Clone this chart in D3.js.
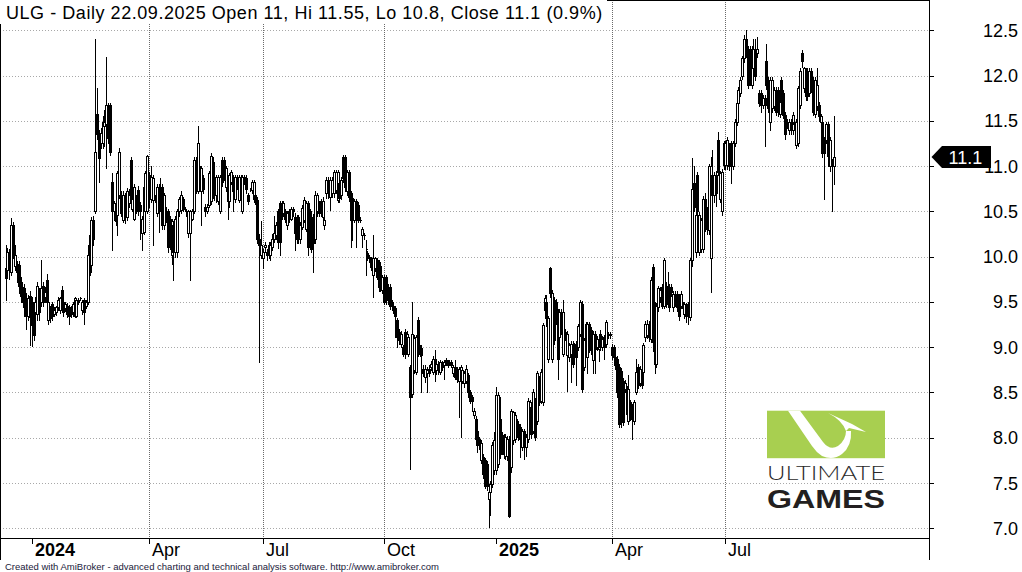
<!DOCTYPE html>
<html><head><meta charset="utf-8">
<script src="https://cdn.jsdelivr.net/npm/d3@7"></script>
<style>html,body{margin:0;padding:0;background:#fff;overflow:hidden}</style>
</head><body>
<svg id="c" width="1022" height="572" xmlns="http://www.w3.org/2000/svg"></svg>
<script>
// ---------------- data ----------------
const title = "ULG - Daily 22.09.2025 Open 11, Hi 11.55, Lo 10.8, Close 11.1 (0.9%)";
const footer = "Created with AmiBroker - advanced charting and technical analysis software. http://www.amibroker.com";
const lastLabel = "11.1";
const lastClose = 11.1;
const startDate = "2023-12-08";
const endDate = "2025-09-22";
const holidays = ["2023-12-25","2023-12-26","2024-01-01","2024-03-29","2024-04-01","2024-05-01","2024-05-03","2024-05-30","2024-08-15","2024-11-01","2024-11-11","2024-12-24","2024-12-25","2024-12-26","2024-12-31","2025-01-01","2025-01-06","2025-04-18","2025-04-21","2025-05-01","2025-06-19","2025-08-15"];
const yTicks = [7.0,7.5,8.0,8.5,9.0,9.5,10.0,10.5,11.0,11.5,12.0,12.5];
const monthTicks = ["2024-01","2024-04","2024-07","2024-10","2025-01","2025-04","2025-07"];
const monthLabels = ["2024","Apr","Jul","Oct","2025","Apr","Jul"];
const monthIsYear = [true,false,false,false,true,false,false];

const open = [9.87,9.85,10.05,9.83,10.35,9.90,9.92,9.91,9.72,9.67,9.65,9.54,9.35,9.57,9.50,9.43,9.39,9.37,9.61,9.50,9.68,9.56,9.74,9.30,9.43,9.48,9.37,9.39,9.44,9.41,9.63,9.50,9.43,9.46,9.44,9.44,9.39,9.35,9.35,9.52,9.54,9.41,9.52,9.46,9.50,10.24,9.91,10.40,10.50,11.58,11.35,11.25,11.25,11.44,11.46,11.68,11.68,10.83,10.50,10.50,10.46,10.68,10.68,10.40,10.66,10.44,10.59,11.07,10.53,10.42,10.64,10.74,10.57,10.26,10.27,10.50,10.50,10.90,10.64,10.63,10.64,10.48,10.77,10.77,10.77,10.35,10.50,10.50,10.42,10.02,10.35,10.05,10.05,10.50,10.51,10.64,10.53,10.50,10.26,10.26,10.42,10.50,11.07,10.72,10.96,10.72,10.87,10.55,10.50,10.57,10.61,11.05,10.88,10.68,10.61,10.50,11.07,11.07,10.77,10.88,10.61,10.83,10.88,10.64,10.87,10.63,10.75,10.50,10.88,10.87,10.68,10.74,10.74,10.64,10.68,10.63,10.20,10.02,9.98,10.11,10.05,10.13,10.02,10.11,10.20,10.24,10.50,10.59,10.59,10.48,10.50,10.35,10.50,10.42,10.53,10.44,10.20,10.44,10.20,10.33,10.41,10.31,10.59,10.50,10.44,10.44,10.20,10.50,10.59,10.61,10.44,10.35,10.70,10.85,10.66,10.70,10.70,10.74,10.63,10.81,10.68,11.10,11.10,10.72,10.94,10.70,10.65,10.41,10.61,10.57,10.41,10.24,10.24,10.09,10.04,9.98,9.98,9.80,9.87,9.96,9.94,9.90,9.63,9.78,9.78,9.67,9.67,9.50,9.45,9.43,9.30,9.17,9.04,9.00,9.17,9.00,8.93,8.78,8.48,8.75,8.73,9.30,8.93,8.99,8.76,8.67,8.71,8.76,8.78,8.73,8.87,8.75,8.82,8.73,8.82,8.80,8.86,8.80,8.84,8.84,8.71,8.78,8.76,8.63,8.65,8.63,8.60,8.63,8.69,8.51,8.45,8.25,8.21,8.08,7.99,7.75,7.79,7.75,7.71,7.32,7.40,7.49,7.64,7.64,7.71,8.21,8.03,7.82,7.80,7.80,7.99,7.68,7.97,7.99,8.19,8.15,8.12,7.90,8.08,7.90,7.99,8.30,8.34,8.08,8.41,8.19,8.65,8.41,8.39,9.41,9.50,8.87,9.87,8.87,9.52,9.50,9.39,9.11,9.39,8.93,9.17,8.91,8.89,8.93,9.04,9.02,9.04,9.00,9.15,9.48,8.78,9.08,8.89,9.26,9.19,8.86,9.15,9.00,8.98,9.15,9.00,9.11,9.04,9.15,9.13,9.00,9.00,8.89,8.87,8.78,8.74,8.63,8.54,8.54,8.19,8.39,8.34,8.19,8.51,8.78,8.60,8.73,8.73,9.11,9.13,9.26,9.09,9.89,9.46,8.82,9.44,9.56,9.67,9.46,9.68,9.61,9.67,9.67,9.44,9.59,9.59,9.56,9.46,9.48,9.37,9.46,9.48,9.33,9.96,10.81,10.05,10.90,10.05,10.09,10.09,10.64,10.51,10.29,9.98,10.90,10.68,10.90,11.29,10.64,10.50,11.25,11.01,11.01,11.23,11.25,11.00,11.25,11.49,11.70,11.81,12.00,12.19,12.40,12.29,12.29,11.90,12.08,12.29,12.25,11.81,11.81,11.68,11.75,12.16,11.95,11.49,11.64,11.66,11.84,11.84,11.58,11.95,11.81,11.57,11.49,11.40,11.49,11.40,11.49,11.23,11.25,11.68,12.25,11.86,12.05,12.05,11.81,12.05,11.95,11.58,11.66,11.68,11.49,11.49,11.29,11.29,11.46,11.00,11.05,11.00];
const high = [10.13,10.10,10.08,10.43,10.38,10.13,9.95,9.95,9.78,9.72,9.70,9.60,9.58,9.62,9.55,9.48,9.56,9.72,9.65,9.96,9.72,9.66,9.81,9.52,9.46,9.50,9.44,9.46,9.55,9.56,9.68,9.52,9.50,9.49,9.47,9.46,9.50,9.55,9.54,9.54,9.55,9.52,9.54,9.52,10.13,10.28,10.44,10.45,12.40,11.86,11.40,11.42,11.55,11.62,12.21,11.70,11.70,10.92,10.62,10.53,10.95,11.20,10.72,10.72,10.70,10.76,10.75,11.10,10.68,10.80,10.68,10.78,10.60,10.45,10.80,10.95,11.12,10.93,11.00,10.90,10.68,10.80,10.80,10.87,10.80,10.70,10.55,10.53,10.45,10.42,10.38,10.45,10.53,10.66,10.72,10.66,10.55,10.53,10.52,10.52,10.53,11.10,11.10,11.44,11.00,11.00,10.90,10.58,10.58,10.95,11.14,11.10,10.90,10.90,10.90,10.90,11.10,11.10,11.00,10.90,10.92,10.96,10.90,10.90,10.90,10.90,10.90,10.90,10.90,10.90,10.70,10.76,10.85,10.85,10.70,10.66,10.25,10.39,10.08,10.16,10.08,10.16,10.16,10.25,10.45,10.38,10.53,10.62,10.62,10.62,10.53,10.50,10.53,10.55,10.55,10.48,10.46,10.46,10.38,10.57,10.66,10.62,10.62,10.53,10.47,10.47,10.72,10.70,10.62,10.64,10.66,10.44,10.88,10.88,10.88,10.88,10.96,10.96,10.96,10.84,10.88,11.12,11.12,10.96,10.96,10.72,10.68,10.64,10.64,10.60,10.44,10.33,10.26,10.18,10.06,10.02,10.00,10.24,10.00,9.98,9.96,9.94,9.80,9.80,9.80,9.70,9.70,9.52,9.47,9.46,9.32,9.20,9.18,9.02,9.20,9.18,9.14,8.80,9.50,9.13,9.14,9.33,9.02,9.02,8.80,8.80,8.78,8.80,8.85,8.90,8.97,8.85,8.85,8.86,8.85,8.86,8.88,8.86,8.86,8.86,8.80,8.86,8.78,8.78,8.80,8.78,8.74,8.80,8.72,8.53,8.47,8.33,8.24,8.10,8.01,7.97,7.82,7.78,7.74,7.45,7.52,7.95,8.06,8.56,8.50,8.45,8.06,8.04,8.04,8.02,8.02,8.32,8.30,8.28,8.21,8.18,8.15,8.10,8.10,8.04,8.44,8.42,8.37,8.54,8.44,8.74,8.68,8.76,9.27,9.58,9.58,9.35,9.89,9.63,9.55,9.53,9.42,9.42,9.42,9.52,9.20,9.18,9.05,9.07,9.07,9.05,9.07,9.26,9.52,9.51,9.10,9.28,9.28,9.28,9.22,9.18,9.18,9.12,9.09,9.19,9.12,9.14,9.30,9.17,9.17,9.03,9.02,8.92,8.90,8.81,8.77,8.66,8.64,8.57,8.69,8.42,8.37,8.42,8.87,8.81,8.79,8.76,9.05,9.29,9.30,9.29,9.77,9.92,9.50,9.49,9.68,9.66,9.70,9.98,9.72,9.83,9.70,9.70,9.62,9.62,9.62,9.59,9.62,9.50,9.50,9.49,9.50,9.99,11.09,11.00,10.50,10.93,10.49,10.43,10.67,10.70,10.55,11.02,11.10,11.18,10.93,10.95,11.38,10.95,10.97,11.28,11.28,11.32,11.26,11.28,11.28,11.52,11.73,11.87,11.98,12.22,12.45,12.50,12.33,12.33,12.33,12.40,12.40,12.43,11.84,11.84,11.78,11.78,12.35,11.98,11.98,11.98,11.87,11.87,11.87,11.82,11.98,11.84,11.60,11.52,11.52,11.52,11.60,11.52,11.52,11.89,12.08,12.28,12.10,12.08,12.08,12.08,12.08,11.98,11.98,12.08,11.71,11.58,11.52,11.32,11.49,11.49,11.32,11.08,11.55];
const low = [9.52,9.80,9.75,9.80,9.98,9.85,9.72,9.60,9.50,9.50,9.35,9.20,9.30,9.02,9.01,9.08,9.30,9.30,9.30,9.45,9.45,9.50,9.46,9.26,9.28,9.30,9.35,9.36,9.41,9.38,9.43,9.35,9.40,9.33,9.26,9.33,9.35,9.33,9.33,9.48,9.52,9.37,9.26,9.43,9.48,9.80,9.88,10.13,10.48,11.30,10.83,11.20,11.20,11.22,10.98,11.25,11.12,10.07,10.40,10.35,10.24,10.65,10.45,10.38,10.37,10.40,10.55,10.60,10.50,10.40,10.48,10.46,10.20,10.07,10.25,10.45,10.48,10.55,10.60,10.13,10.60,10.45,10.27,10.57,10.30,10.30,10.38,10.05,10.08,9.92,9.74,10.00,10.00,10.45,10.48,10.50,10.50,10.45,10.22,9.74,10.40,10.48,10.70,10.70,10.75,10.35,10.70,10.45,10.48,10.55,10.58,10.65,10.63,10.60,10.58,10.48,10.78,10.85,10.72,10.42,10.55,10.80,10.50,10.60,10.75,10.60,10.70,10.48,10.80,10.70,10.58,10.72,10.70,10.60,10.58,10.15,8.84,9.98,9.87,10.05,9.96,9.98,9.96,10.07,10.16,10.20,10.10,10.02,10.42,10.45,10.38,10.30,10.38,10.40,10.45,10.07,10.15,10.15,10.15,10.30,10.38,10.28,10.02,10.08,10.05,9.83,10.15,10.45,10.45,10.45,10.40,10.30,10.65,10.65,10.52,10.66,10.66,10.70,10.60,10.60,10.64,10.82,10.72,10.68,10.61,10.11,10.18,10.38,10.11,10.38,10.38,10.11,10.20,9.80,9.96,9.94,9.85,9.56,9.84,9.75,9.62,9.62,9.60,9.48,9.48,9.48,9.42,9.43,9.38,9.11,9.00,9.04,9.00,8.90,8.88,8.96,8.90,7.66,8.45,8.72,8.70,8.90,8.90,8.51,8.68,8.62,8.51,8.68,8.75,8.70,8.63,8.70,8.70,8.70,8.75,8.65,8.80,8.78,8.80,8.78,8.68,8.65,8.62,8.23,8.01,8.60,8.56,8.60,8.45,8.38,8.30,8.22,7.95,7.84,7.88,7.72,7.56,7.44,7.42,7.01,7.15,7.46,7.60,7.60,7.68,7.78,7.82,7.78,7.76,7.75,7.12,7.62,7.93,7.95,8.04,7.97,7.79,7.86,7.77,7.80,7.95,8.27,8.00,8.05,7.98,8.15,8.36,8.38,8.36,9.34,9.23,8.84,9.56,8.84,9.04,9.26,8.65,9.08,9.15,8.90,9.08,8.52,8.85,8.62,8.78,8.85,8.58,8.97,9.12,8.50,8.75,9.05,8.71,8.95,8.93,8.71,8.71,8.97,8.85,8.97,8.97,8.87,9.00,9.10,9.10,8.87,8.86,8.76,8.45,8.12,8.12,8.14,8.50,8.22,8.15,8.20,7.99,8.15,8.48,8.55,8.57,8.55,8.70,9.07,9.10,9.07,9.06,8.96,8.71,8.78,9.40,9.50,9.43,9.43,9.44,9.58,9.40,9.57,9.40,9.46,9.40,9.30,9.43,9.40,9.32,9.28,9.26,9.30,9.90,10.50,10.00,10.46,10.02,10.05,10.05,10.28,10.25,10.25,9.61,10.62,10.60,10.56,10.90,10.60,10.46,10.97,10.97,10.97,10.96,10.81,10.97,11.22,11.45,11.66,11.77,11.96,12.15,12.20,11.86,11.90,11.86,12.04,11.95,12.20,11.66,11.60,11.64,11.22,11.85,11.60,11.40,11.60,11.62,11.56,11.55,11.54,11.66,11.53,11.30,11.42,11.36,11.36,11.36,11.42,11.20,11.22,11.64,12.10,11.82,11.73,11.73,11.77,11.82,11.56,11.54,11.62,11.50,11.46,11.10,10.64,11.25,11.00,10.95,10.50,10.80];
const close = [9.76,10.05,9.87,10.35,10.02,10.02,9.83,9.68,9.57,9.54,9.44,9.35,9.54,9.33,9.24,9.13,9.50,9.68,9.39,9.65,9.50,9.61,9.50,9.50,9.32,9.35,9.41,9.44,9.52,9.54,9.46,9.39,9.48,9.37,9.35,9.37,9.48,9.54,9.52,9.50,9.54,9.50,9.39,9.50,10.02,9.83,10.40,10.20,11.16,11.35,11.09,11.37,11.49,11.49,11.68,11.31,11.16,10.50,10.59,10.39,10.92,11.16,10.48,10.68,10.44,10.72,10.68,10.66,10.64,10.77,10.51,10.50,10.50,10.42,10.77,10.92,11.11,10.64,10.88,10.87,10.64,10.77,10.50,10.61,10.35,10.68,10.42,10.11,10.13,10.39,10.05,10.42,10.50,10.64,10.68,10.53,10.53,10.50,10.50,10.50,10.50,11.07,10.75,11.25,10.79,10.98,10.75,10.50,10.55,10.92,11.11,10.68,10.68,10.88,10.88,10.88,10.83,10.90,10.98,10.61,10.90,10.94,10.72,10.88,10.79,10.88,10.88,10.88,10.83,10.75,10.61,10.74,10.83,10.83,10.63,10.20,10.13,10.13,10.05,10.13,10.02,10.02,10.13,10.20,10.26,10.35,10.16,10.16,10.48,10.59,10.42,10.48,10.42,10.53,10.50,10.26,10.44,10.20,10.35,10.54,10.63,10.59,10.11,10.13,10.09,10.15,10.68,10.68,10.48,10.48,10.61,10.41,10.85,10.70,10.85,10.85,10.94,10.94,10.94,10.65,10.85,10.87,10.77,10.94,10.66,10.41,10.41,10.61,10.41,10.41,10.41,10.30,10.24,10.09,9.98,10.00,9.89,9.98,9.98,9.78,9.67,9.70,9.78,9.50,9.52,9.52,9.46,9.46,9.41,9.34,9.11,9.08,9.15,8.93,8.93,9.15,9.11,8.45,9.15,9.10,9.11,8.93,8.99,8.91,8.71,8.76,8.75,8.71,8.82,8.87,8.73,8.82,8.75,8.84,8.78,8.84,8.82,8.84,8.82,8.80,8.78,8.67,8.65,8.76,8.78,8.75,8.71,8.76,8.51,8.41,8.41,8.30,7.99,7.92,7.92,7.94,7.60,7.47,7.47,7.40,7.49,7.92,7.97,8.47,8.47,7.82,7.86,8.01,8.01,7.99,7.14,8.29,8.28,8.25,8.08,8.01,7.99,8.08,7.90,8.01,8.41,8.39,8.04,8.51,8.01,8.71,8.39,8.73,9.24,9.54,9.32,9.32,9.60,9.60,9.08,9.30,8.87,9.39,9.19,9.39,9.11,9.15,9.02,9.04,8.82,8.89,8.89,9.23,9.50,8.54,9.08,9.26,9.26,8.99,8.97,9.15,8.98,9.09,9.06,9.00,9.09,9.00,9.28,9.13,9.15,8.91,8.89,8.80,8.51,8.15,8.25,8.17,8.61,8.26,8.54,8.23,8.21,8.39,8.73,8.58,8.76,8.58,9.02,9.26,9.26,9.11,9.74,9.06,8.82,9.46,9.65,9.63,9.46,9.96,9.48,9.67,9.44,9.61,9.59,9.50,9.44,9.35,9.59,9.43,9.48,9.35,9.35,9.96,10.75,10.55,10.46,10.50,10.46,10.40,10.64,10.31,10.31,11.00,11.00,10.68,10.90,10.70,10.94,10.92,10.94,11.01,11.25,11.29,11.00,11.00,11.25,11.49,11.70,11.84,11.95,12.19,12.40,12.27,11.90,12.08,12.29,12.29,12.00,12.29,11.70,11.68,11.75,11.68,11.90,11.64,11.95,11.95,11.84,11.60,11.60,11.79,11.71,11.57,11.35,11.46,11.49,11.40,11.57,11.46,11.49,11.86,12.05,12.16,12.08,11.77,11.77,12.05,11.86,11.60,11.95,11.90,11.55,11.55,11.14,11.14,11.46,11.11,11.29,11.00,11.10];

// ---------------- layout ----------------
const W = 1022, H = 572;
const plotR = 929, axisY = 538, frameB = 560;
const FONT = "'Liberation Sans', Arial, Helvetica, sans-serif";

const fmt = d3.timeFormat("%Y-%m-%d");
const parse = d3.timeParse("%Y-%m-%d");
const hol = new Set(holidays);
const dates = d3.timeDay.range(parse(startDate), d3.timeDay.offset(parse(endDate), 1))
  .filter(d => d.getDay() !== 0 && d.getDay() !== 6 && !hol.has(fmt(d)))
  .map(fmt);
const N = Math.min(dates.length, open.length);

const x = d3.scaleLinear().domain([0, 444]).range([5.6, 833.6]);
const y = d3.scaleLinear().domain([7, 12.5]).range([528.3, 30.3]);

const svg = d3.select("#c");
svg.append("rect").attr("width", W).attr("height", H).attr("fill", "#fff");

// horizontal grid
svg.append("g").selectAll("line").data(yTicks).join("line")
  .attr("x1", 3).attr("x2", plotR)
  .attr("y1", d => Math.round(y(d)) + 0.5).attr("y2", d => Math.round(y(d)) + 0.5)
  .attr("stroke", "#a8a8a8").attr("stroke-dasharray", "1,2");

// month tick positions
const monthIdx = monthTicks.map(m => dates.findIndex(d => d.startsWith(m)));

// vertical grid (months only)
svg.append("g").selectAll("line").data(monthIdx.filter((d, i) => !monthIsYear[i])).join("line")
  .attr("x1", d => Math.round(x(d)) + 0.5).attr("x2", d => Math.round(x(d)) + 0.5)
  .attr("y1", 0).attr("y2", axisY)
  .attr("stroke", "#6a6a6a").attr("stroke-dasharray", "1,1");

// candles
const g = svg.append("g").attr("shape-rendering", "crispEdges");
d3.range(N).forEach(i => {
  const px = Math.round(x(i));
  const cx = px + 0.5;
  g.append("line").attr("x1", cx).attr("x2", cx)
    .attr("y1", Math.round(y(high[i]))).attr("y2", Math.round(y(low[i])) + 1)
    .attr("stroke", "#000").attr("stroke-width", 1);
  const top = Math.round(y(Math.max(open[i], close[i]))) + 0.5;
  const bot = Math.round(y(Math.min(open[i], close[i]))) + 0.5;
  const up = close[i] >= open[i];
  g.append("path")
    .attr("d", `M${px - 0.5},${top}H${px + 1.5}V${bot}H${px - 0.5}Z`)
    .attr("fill", up ? "#fff" : "#000").attr("stroke", "#000").attr("stroke-width", 1);
});

// frame
const fr = svg.append("g").attr("stroke", "#000").attr("shape-rendering", "crispEdges");
fr.append("line").attr("x1", 0).attr("x2", plotR + 1).attr("y1", 0.5).attr("y2", 0.5);
fr.append("line").attr("x1", 0.5).attr("x2", 0.5).attr("y1", 0).attr("y2", frameB);
fr.append("line").attr("x1", plotR + 0.5).attr("x2", plotR + 0.5).attr("y1", 0).attr("y2", frameB);
fr.append("line").attr("x1", 0).attr("x2", plotR + 1).attr("y1", axisY + 0.5).attr("y2", axisY + 0.5);

// title
svg.append("rect").attr("x", 0).attr("y", 0).attr("width", 607).attr("height", 24).attr("fill", "#fff");
svg.append("text").attr("x", 6).attr("y", 19).attr("font-family", FONT).attr("font-size", 18)
  .attr("letter-spacing", 0.55).attr("fill", "#000").text(title);

// y axis ticks & labels
const ya = svg.append("g");
ya.selectAll("line").data(yTicks).join("line")
  .attr("x1", plotR).attr("x2", plotR + 5)
  .attr("y1", d => Math.round(y(d)) + 0.5).attr("y2", d => Math.round(y(d)) + 0.5)
  .attr("stroke", "#000").attr("shape-rendering", "crispEdges");
ya.selectAll("text").data(yTicks).join("text")
  .attr("x", 1018).attr("y", d => y(d) + 6.5).attr("text-anchor", "end")
  .attr("font-family", FONT).attr("font-size", 18).attr("fill", "#000")
  .text(d => d.toFixed(1));

// x axis ticks & labels
const xa = svg.append("g");
monthIdx.forEach((mi, k) => {
  const px = Math.round(x(mi)) + 0.5;
  xa.append("line").attr("x1", px).attr("x2", px).attr("y1", axisY).attr("y2", axisY + 6)
    .attr("stroke", "#000").attr("shape-rendering", "crispEdges");
  xa.append("text").attr("x", px + 2.5).attr("y", 556)
    .attr("font-family", FONT).attr("font-size", 18)
    .attr("font-weight", monthIsYear[k] ? "bold" : "normal")
    .attr("fill", "#000").text(monthLabels[k]);
});

// last price tag
const ty = y(lastClose);
svg.append("path")
  .attr("d", `M931.5,${ty}L942,${ty - 11}H991V${ty + 11}H942Z`).attr("fill", "#000");
svg.append("text").attr("x", 948.5).attr("y", ty + 6.5)
  .attr("font-family", FONT).attr("font-size", 18).attr("fill", "#fff").text(lastLabel);

// logo
const lg = svg.append("g");
lg.append("rect").attr("x", 767).attr("y", 410.7).attr("width", 118).attr("height", 47.5).attr("fill", "#a8cf50");
lg.append("path").attr("d", "M788,410.7H800L823,442Q830,451 838,446Q846,440 846,431L851,431Q852,446 842,454Q833,461 822,456Q816,452 812,446Z")
  .attr("fill", "#fff");
lg.append("path").attr("d", "M828,413L852,424L866,432L849,428L846,431Q842,420 828,413Z").attr("fill", "#fff");
lg.append("text").attr("x", 767).attr("y", 479.5).attr("font-family", "Lato, " + FONT)
  .attr("font-weight", 300).attr("font-size", 20).attr("fill", "#2a2a2a")
  .attr("textLength", 118).attr("lengthAdjust", "spacingAndGlyphs").text("ULTIMATE");
lg.append("text").attr("x", 767).attr("y", 507.5).attr("font-family", FONT)
  .attr("font-weight", "bold").attr("font-size", 25.5).attr("fill", "#231f20")
  .attr("textLength", 118).attr("lengthAdjust", "spacingAndGlyphs").text("GAMES");

// footer
svg.append("text").attr("x", 5).attr("y", 569.5).attr("font-family", FONT)
  .attr("font-size", 9.5).attr("fill", "#1a1a3a").text(footer);
</script>
</body></html>
